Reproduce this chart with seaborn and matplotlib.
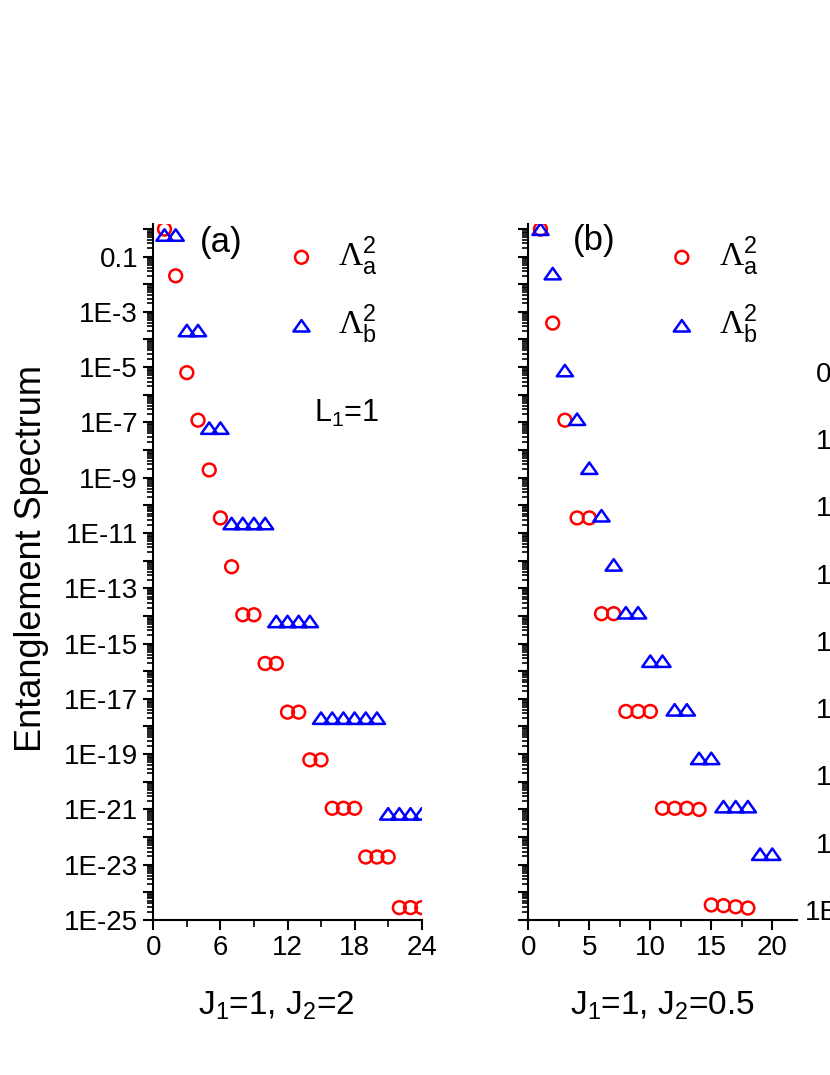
import numpy as np
import matplotlib
matplotlib.use("Agg")
import matplotlib.pyplot as plt
import matplotlib.ticker as mticker
from matplotlib.path import Path
import seaborn as sns

# panel (a): J1=1, J2=2
xa_circ = [1, 2, 3, 4, 5, 6, 7, 8, 9, 10, 11, 12, 13, 14, 15, 16, 17, 18, 19, 20, 21, 22, 23, 24]
ya_circ = [0.98, 2.0e-2, 6.3e-6, 1.2e-7, 1.9e-9, 3.5e-11, 6.0e-13, 1.1e-14, 1.1e-14,
           1.9e-16, 1.9e-16, 3.3e-18, 3.3e-18, 6.2e-20, 6.2e-20, 1.1e-21, 1.1e-21, 1.1e-21,
           1.9e-23, 1.9e-23, 1.9e-23, 2.8e-25, 2.8e-25, 2.8e-25]
xa_tri = [1, 2, 3, 4, 5, 6, 7, 8, 9, 10, 11, 12, 13, 14, 15, 16, 17, 18, 19, 20, 21, 22, 23, 24]
ya_tri = [0.6, 0.6, 2.1e-4, 2.1e-4, 6.2e-8, 6.2e-8, 2.2e-11, 2.2e-11, 2.2e-11, 2.2e-11,
          6.3e-15, 6.3e-15, 6.3e-15, 6.3e-15, 2.0e-18, 2.0e-18, 2.0e-18, 2.0e-18, 2.0e-18, 2.0e-18,
          6.9e-22, 6.9e-22, 6.9e-22, 6.9e-22]

# panel (b): J1=1, J2=0.5
xb_circ = [1, 2, 3, 4, 5, 6, 7, 8, 9, 10, 11, 12, 13, 14, 15, 16, 17, 18]
yb_circ = [0.98, 3.9e-4, 1.2e-7, 3.5e-11, 3.5e-11, 1.2e-14, 1.2e-14, 3.5e-18, 3.5e-18, 3.5e-18,
           1.1e-21, 1.1e-21, 1.1e-21, 1.0e-21, 3.5e-25, 3.3e-25, 3.0e-25, 2.7e-25]
xb_tri = [1, 2, 3, 4, 5, 6, 7, 8, 9, 10, 11, 12, 13, 14, 15, 16, 17, 18, 19, 20]
yb_tri = [0.97, 2.4e-2, 7.5e-6, 1.3e-7, 2.2e-9, 4.2e-11, 7.0e-13, 1.3e-14, 1.3e-14, 2.3e-16,
          2.3e-16, 4.0e-18, 4.0e-18, 7.0e-20, 7.0e-20, 1.26e-21, 1.26e-21, 1.26e-21, 2.4e-23, 2.4e-23]

# tick labels of the third panel, cut off by the right edge
third_exps = [-17, -15, -13, -11, -9, -7, -5, -3, -1]
third_labels = ["1E-17", "1E-15", "1E-13", "1E-11", "1E-9", "1E-7", "1E-5", "1E-3", "0.1"]

sns.set_theme(style="ticks")
plt.rcParams["font.family"] = ["Liberation Sans", "DejaVu Sans"]
plt.rcParams["text.color"] = "black"
plt.rcParams["axes.labelcolor"] = "black"
plt.rcParams["mathtext.fontset"] = "custom"
plt.rcParams["mathtext.rm"] = "Liberation Serif"
plt.rcParams["mathtext.sf"] = "Liberation Sans"
plt.rcParams["mathtext.it"] = "Liberation Sans"

tri = Path([(-1, -0.71), (1, -0.71), (0, 0.71), (-1, -0.71)], closed=True)
lab_a = r"$\Lambda^{\mathsf{2}}_{\mathsf{a}}$"
lab_b = r"$\Lambda^{\mathsf{2}}_{\mathsf{b}}$"


def odd_decades(v, pos):
    e = int(round(np.log10(v)))
    if e % 2 == 0 or e > -1:
        return ""
    if e == -1:
        return "0.1"
    return f"1E{e}"


def style_axes(ax, xmax, xmajor, xminor):
    ax.set_yscale("log")
    ax.set_ylim(1e-25, 1.5)
    ax.set_xlim(0, xmax)
    ax.xaxis.set_major_locator(mticker.MultipleLocator(xmajor))
    ax.xaxis.set_minor_locator(mticker.MultipleLocator(xminor))
    ax.yaxis.set_major_locator(mticker.LogLocator(base=10, subs=(1.0,), numticks=100))
    ax.yaxis.set_minor_locator(mticker.LogLocator(base=10, subs=np.arange(2, 10), numticks=100))
    ax.yaxis.set_major_formatter(mticker.FuncFormatter(odd_decades))
    ax.yaxis.set_minor_formatter(mticker.NullFormatter())
    ax.tick_params(which="major", length=7, width=1.5, labelsize=20, colors="black", pad=4)
    ax.tick_params(which="minor", length=5, width=1.2, colors="black")
    ax.tick_params(axis="y", which="minor", length=4)
    for s in ["top", "right"]:
        ax.spines[s].set_visible(False)
    for s in ["left", "bottom"]:
        ax.spines[s].set_linewidth(1.5)
        ax.spines[s].set_color("black")
    ax.set_ylabel("")
    ax.set_xlabel("")


fig = plt.figure(figsize=(8.3, 10.75), dpi=100)
ax1 = fig.add_axes([153.3 / 830, 155 / 1075, 268.4 / 830, 696 / 1075])
ax2 = fig.add_axes([528.3 / 830, 155 / 1075, 268.4 / 830, 696 / 1075])

for ax, xc, yc, xt, yt in [(ax1, xa_circ, ya_circ, xa_tri, ya_tri),
                           (ax2, xb_circ, yb_circ, xb_tri, yb_tri)]:
    sns.scatterplot(x=xc, y=yc, ax=ax, marker="o", s=85, facecolor="none",
                    edgecolor="red", linewidth=1.8, label=lab_a, zorder=3)
    sns.scatterplot(x=xt, y=yt, ax=ax, marker=tri, s=135, facecolor="none",
                    edgecolor="blue", linewidth=1.8, label=lab_b, zorder=4)

style_axes(ax1, 24, 6, 3)
style_axes(ax2, 22, 5, 2.5)
ax2.tick_params(axis="y", which="both", labelleft=False)

ax1.set_ylabel("Entanglement Spectrum", fontsize=26)
ax1.yaxis.set_label_coords(-0.39, 0.52)
ax1.set_xlabel(r"J$_{\mathsf{1}}$=1, J$_{\mathsf{2}}$=2", fontsize=24)
ax1.xaxis.set_label_coords(0.46, -0.1)
ax2.set_xlabel(r"J$_{\mathsf{1}}$=1, J$_{\mathsf{2}}$=0.5", fontsize=24)
ax2.xaxis.set_label_coords(0.5, -0.1)

ax1.text(0.174, 0.973, "(a)", transform=ax1.transAxes, fontsize=25, va="center", ha="left")
ax2.text(0.167, 0.976, "(b)", transform=ax2.transAxes, fontsize=25, va="center", ha="left")
ax1.text(0.60, 0.728, r"L$_{\mathsf{1}}$=1", transform=ax1.transAxes, fontsize=22, va="center", ha="left")

for ax, x0 in [(ax1, 0.49), (ax2, 0.51)]:
    ax.legend(loc="upper left", bbox_to_anchor=(x0, 0.985), frameon=False, fontsize=24,
              handlelength=1.0, handletextpad=0.6, labelspacing=0.75, borderpad=0,
              borderaxespad=0, labelcolor="black")

# third panel: only the start of its tick labels reaches into the picture
ax3 = fig.add_axes([816 / 830, 155 / 1075, 0.2, 696 / 1075])
ax3.set_yscale("log")
ax3.set_ylim(10 ** -17.3, 10 ** 3.4)
ax3.set_yticks([10.0 ** e for e in third_exps])
ax3.set_yticklabels(third_labels)
ax3.yaxis.set_minor_locator(mticker.NullLocator())
ax3.tick_params(axis="y", which="major", labelsize=20, pad=0, length=0, labelcolor="black")
for lbl in ax3.get_yticklabels():
    lbl.set_horizontalalignment("left")
ax3.get_yticklabels()[0].set_x(-11 / 166)
ax3.set_xticks([])
ax3.patch.set_visible(False)
for s in ax3.spines.values():
    s.set_visible(False)

fig.savefig("out.png", dpi=100)
